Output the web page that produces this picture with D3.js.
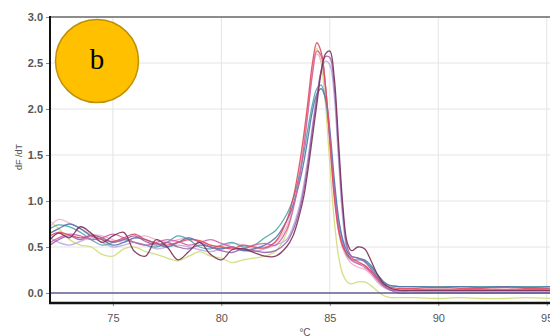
<!DOCTYPE html>
<html><head><meta charset="utf-8">
<script src="https://cdn.jsdelivr.net/npm/d3@7"></script>
<style>html,body{margin:0;padding:0;background:#fff;overflow:hidden}</style>
</head><body><svg id="c" width="550" height="336"></svg>
<script>
// Temperature grid (°C)
const temps = [72.1,72.5,73.0,73.5,74.0,74.5,75.0,75.5,76.0,76.5,77.0,77.5,78.0,78.5,79.0,79.5,80.0,80.5,81.0,81.5,82.0,82.5,
  83.0,83.3,83.6,83.8,84.0,84.2,84.4,84.6,84.8,85.0,85.2,85.4,85.6,85.8,86.0,86.3,86.6,86.9,87.2,87.5,87.8,88.2,
  89,90,91,92,93,94,95.2];
// dF/dT melt curves
const yellowGreen = [0.78,0.70,0.58,0.52,0.50,0.42,0.40,0.48,0.50,0.45,0.42,0.38,0.35,0.40,0.45,0.40,0.38,0.33,0.36,0.38,0.40,0.45,
  0.65,0.92,1.30,1.62,2.00,2.42,2.66,2.50,2.05,1.40,0.80,0.40,0.20,0.12,0.10,0.12,0.12,0.08,0.02,-0.03,-0.05,-0.05,
  -0.05,-0.06,-0.05,-0.06,-0.06,-0.05,-0.06];
const lavender = [0.60,0.55,0.52,0.56,0.60,0.55,0.50,0.52,0.55,0.52,0.48,0.50,0.52,0.50,0.47,0.45,0.48,0.50,0.46,0.45,0.48,0.52,
  0.58,0.72,0.95,1.18,1.48,1.82,2.15,2.40,2.52,2.48,2.15,1.45,0.80,0.45,0.35,0.32,0.30,0.22,0.12,0.06,0.03,0.03,
  0.03,0.03,0.03,0.03,0.03,0.03,0.03];
const lightPink = [0.72,0.80,0.76,0.70,0.64,0.62,0.58,0.55,0.60,0.62,0.58,0.55,0.58,0.60,0.56,0.52,0.50,0.54,0.52,0.48,0.50,0.55,
  0.72,0.95,1.32,1.65,2.02,2.40,2.60,2.52,2.20,1.62,1.08,0.68,0.48,0.38,0.32,0.28,0.26,0.20,0.12,0.06,0.04,0.04,
  0.04,0.04,0.04,0.04,0.04,0.04,0.04];
const teal = [0.70,0.74,0.72,0.66,0.58,0.52,0.55,0.58,0.55,0.52,0.50,0.55,0.62,0.58,0.50,0.48,0.52,0.55,0.50,0.52,0.60,0.68,
  0.85,1.02,1.28,1.52,1.80,2.05,2.22,2.26,2.10,1.70,1.18,0.78,0.55,0.40,0.36,0.36,0.35,0.28,0.18,0.10,0.08,0.07,
  0.07,0.07,0.07,0.07,0.07,0.07,0.07];
const steelBlue = [0.65,0.70,0.75,0.70,0.62,0.58,0.52,0.55,0.60,0.58,0.54,0.50,0.55,0.60,0.55,0.50,0.48,0.50,0.46,0.48,0.52,0.60,
  0.78,0.95,1.20,1.42,1.70,1.98,2.16,2.22,2.12,1.78,1.25,0.82,0.58,0.45,0.40,0.38,0.36,0.30,0.20,0.12,0.08,0.07,
  0.07,0.06,0.07,0.06,0.07,0.06,0.07];
const pink = [0.55,0.60,0.64,0.62,0.58,0.60,0.64,0.60,0.55,0.52,0.55,0.58,0.56,0.52,0.55,0.58,0.54,0.50,0.48,0.52,0.54,0.52,
  0.68,0.90,1.25,1.58,1.98,2.38,2.63,2.58,2.25,1.70,1.12,0.72,0.52,0.42,0.36,0.32,0.28,0.22,0.14,0.07,0.03,0.02,
  0.02,0.02,0.02,0.02,0.02,0.02,0.02];
const red = [0.62,0.66,0.63,0.60,0.62,0.58,0.56,0.60,0.64,0.58,0.54,0.52,0.55,0.58,0.57,0.52,0.50,0.48,0.52,0.50,0.49,0.56,
  0.78,1.02,1.40,1.72,2.10,2.50,2.72,2.62,2.25,1.65,1.05,0.68,0.50,0.42,0.38,0.34,0.30,0.24,0.16,0.09,0.06,0.05,
  0.05,0.06,0.05,0.05,0.06,0.05,0.05];
const purple = [0.52,0.58,0.62,0.58,0.63,0.60,0.55,0.58,0.62,0.56,0.52,0.55,0.50,0.48,0.52,0.50,0.46,0.44,0.48,0.46,0.44,0.46,
  0.55,0.68,0.90,1.12,1.42,1.78,2.12,2.42,2.57,2.56,2.25,1.55,0.88,0.50,0.40,0.38,0.34,0.26,0.16,0.08,0.03,0.00,
  0.00,0.00,0.00,0.00,0.00,0.00,0.00];
const maroon = [0.58,0.65,0.60,0.72,0.65,0.55,0.62,0.66,0.45,0.40,0.58,0.50,0.36,0.45,0.55,0.42,0.36,0.47,0.48,0.44,0.40,0.40,
  0.50,0.62,0.85,1.05,1.35,1.70,2.05,2.40,2.60,2.63,2.35,1.65,0.95,0.55,0.46,0.50,0.48,0.35,0.20,0.10,0.05,0.03,
  0.03,0.03,0.03,0.03,0.03,0.03,0.03];

const seriesNames = ["yellowGreen","lavender","lightPink","teal","steelBlue","pink","red","purple","maroon"];
const seriesValues = [yellowGreen,lavender,lightPink,teal,steelBlue,pink,red,purple,maroon];
const seriesColors = ["#cfdc7a","#b9aade","#f2b0cc","#4fa3a8","#5276ad","#d560a8","#e04a5c","#9a62a8","#7a3058"];

const xTicks = [75,80,85,90,95];
const yTicks = [0,0.5,1.0,1.5,2.0,2.5,3.0];
const xLabel = "°C";
const yLabel = "dF /dT";
const badge = "b";

const svg = d3.select("#c");
const L = 50, R = 550, T = 17, B = 303;
const x = d3.scaleLinear().domain([72.1, 95.15]).range([L, R]);
const y = d3.scaleLinear().domain([0, 3]).range([293, T]);

svg.append("defs").append("clipPath").attr("id","clip")
  .append("rect").attr("x",L).attr("y",T).attr("width",R-L).attr("height",B-T);

// grid
const g = svg.append("g");
g.selectAll(".vg").data(xTicks).join("line")
  .attr("x1",d=>x(d)).attr("x2",d=>x(d)).attr("y1",T).attr("y2",B)
  .attr("stroke","#e4e4e4").attr("stroke-width",1);
g.selectAll(".hg").data(yTicks.filter(d=>d>0 && d<3)).join("line")
  .attr("x1",L).attr("x2",R).attr("y1",d=>y(d)).attr("y2",d=>y(d))
  .attr("stroke","#e4e4e4").attr("stroke-width",1);

const fam = "Arial, 'Liberation Sans', sans-serif";
// axes labels
const yAxis = d3.axisLeft(y).tickValues(yTicks).tickFormat(d3.format(".1f")).tickSize(4).tickPadding(3);
const ya = svg.append("g").attr("transform",`translate(${L},0)`).call(yAxis);
ya.select(".domain").remove();
ya.selectAll("line").attr("stroke","#888");
ya.selectAll("text").attr("fill","#555").attr("font-family",fam).attr("font-size",11).attr("font-weight","bold");

const xAxis = d3.axisBottom(x).tickValues(xTicks).tickSize(3).tickPadding(8);
const xa = svg.append("g").attr("transform",`translate(0,${B})`).call(xAxis);
xa.select(".domain").remove();
xa.selectAll("line").attr("stroke","#888");
xa.selectAll("text").attr("fill","#555").attr("font-family",fam).attr("font-size",11);

// curves
const line = d3.line().x((d,i)=>x(temps[i])).y(d=>y(d)).curve(d3.curveCatmullRom.alpha(0.5));
const cg = svg.append("g").attr("clip-path","url(#clip)");
cg.selectAll("path").data(seriesValues).join("path")
  .attr("d",d=>line(d)).attr("fill","none")
  .attr("stroke",(d,i)=>seriesColors[i]).attr("stroke-width",1.3).attr("stroke-opacity",0.9);

// zero line
svg.append("line").attr("x1",L).attr("x2",R).attr("y1",y(0)).attr("y2",y(0))
  .attr("stroke","#5d5d92").attr("stroke-width",1.5);

// frame
svg.append("line").attr("x1",L).attr("x2",R).attr("y1",T).attr("y2",T).attr("stroke","#666").attr("stroke-width",1.5);
svg.append("line").attr("x1",L).attr("x2",L).attr("y1",T-1).attr("y2",B+1).attr("stroke","#111").attr("stroke-width",2);
svg.append("line").attr("x1",L-1).attr("x2",R).attr("y1",B).attr("y2",B).attr("stroke","#111").attr("stroke-width",2.5);

// axis titles
svg.append("text").attr("transform","translate(22,157) rotate(-90)").attr("text-anchor","middle")
  .attr("font-family",fam).attr("font-size",9).attr("fill","#555").text(yLabel);
svg.append("text").attr("x",305).attr("y",336).attr("text-anchor","middle")
  .attr("font-family",fam).attr("font-size",10).attr("fill","#555").text(xLabel);

// badge
svg.append("circle").attr("cx",97).attr("cy",61).attr("r",41.5)
  .attr("fill","#FFC000").attr("stroke","#BF9000").attr("stroke-width",1.5);
svg.append("text").attr("x",97).attr("y",69).attr("text-anchor","middle")
  .attr("font-family","'Liberation Serif','Times New Roman',serif").attr("font-size",29).attr("fill","#000").text(badge);
</script></body></html>
